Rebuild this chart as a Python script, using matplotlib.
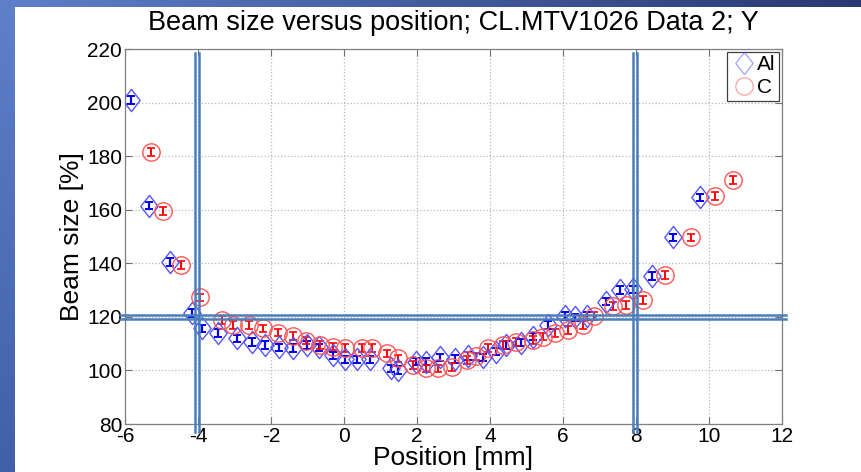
import numpy as np
import matplotlib.pyplot as plt
from matplotlib.path import Path

plt.rcParams["font.family"] = ["Liberation Sans", "DejaVu Sans"]
plt.rcParams["axes.unicode_minus"] = False

# Al data (blue diamonds)
al_pos = [-5.84, -5.34, -4.77, -4.17, -3.90, -3.45, -2.94, -2.53, -2.17, -1.77,
          -1.39, -1.02, -0.68, -0.30, 0.02, 0.35, 0.71, 1.30, 1.48, 1.98,
          2.25, 2.62, 3.03, 3.39, 3.80, 4.17, 4.45, 4.86, 5.18, 5.59,
          6.05, 6.33, 6.66, 7.19, 7.56, 7.92, 8.43, 9.02, 9.75]
al_size = [201.0, 161.5, 140.5, 121.5, 115.7, 113.9, 112.0, 110.7, 109.5, 108.6,
           108.4, 109.5, 108.6, 105.6, 104.1, 104.1, 104.1, 100.8, 100.2, 103.3,
           103.3, 104.9, 104.2, 105.4, 104.9, 107.0, 109.5, 110.4, 112.6, 117.0,
           120.3, 119.8, 120.3, 125.7, 130.0, 130.3, 135.3, 149.7, 164.6]

# C data (red circles)
c_pos = [-5.29, -4.96, -4.47, -3.95, -3.35, -3.05, -2.60, -2.23, -1.82, -1.41,
         -1.04, -0.66, -0.30, 0.04, 0.48, 0.76, 1.17, 1.49, 1.90, 2.26,
         2.58, 2.95, 3.36, 3.63, 3.95, 4.36, 4.70, 5.18, 5.45, 5.78,
         6.14, 6.55, 6.86, 7.36, 7.72, 8.18, 8.79, 9.52, 10.16, 10.66]
c_size = [181.6, 159.5, 139.4, 127.3, 118.8, 117.0, 117.0, 115.7, 114.1, 112.9,
          111.1, 109.5, 108.9, 108.3, 108.3, 108.3, 106.4, 104.5, 102.0, 100.8,
          100.8, 101.2, 103.9, 105.2, 108.3, 109.5, 110.6, 111.4, 112.6, 113.9,
          115.1, 117.0, 120.3, 124.1, 124.5, 126.3, 135.6, 149.7, 165.1, 171.1]

err = 1.4

xticks = [-6, -4, -2, 0, 2, 4, 6, 8, 10, 12]
yticks = [80, 100, 120, 140, 160, 180, 200, 220]

diamond = Path([(0, 1), (0.78, 0), (0, -1), (-0.78, 0), (0, 1)],
               [Path.MOVETO, Path.LINETO, Path.LINETO, Path.LINETO, Path.CLOSEPOLY])

fig = plt.figure(figsize=(8.62, 4.72), dpi=100)
fig.patch.set_facecolor("white")

# slide background strips
left = fig.add_axes([0, 0, 15 / 862, 1])
left.imshow(np.linspace([0.37, 0.50, 0.79], [0.25, 0.38, 0.66], 64)[:, None, :],
            aspect="auto", extent=[0, 1, 0, 1], origin="upper")
left.axis("off")
top = fig.add_axes([0, 1 - 7 / 472, 1, 7 / 472])
top.imshow(np.linspace([0.37, 0.50, 0.79], [0.16, 0.22, 0.45], 256)[None, :, :],
           aspect="auto", extent=[0, 1, 0, 1])
top.axis("off")

ax = fig.add_axes([125 / 862, 48 / 472, 657 / 862, 375 / 472])

ax.errorbar(al_pos, al_size, yerr=err, fmt="none", ecolor="#0000ee",
            elinewidth=1.6, capsize=2.8, capthick=1.4, zorder=3)
ax.errorbar(c_pos, c_size, yerr=err, fmt="none", ecolor="#ff0000",
            elinewidth=1.4, capsize=2.8, capthick=1.2, zorder=3)
h_al, = ax.plot(al_pos, al_size, linestyle="none", marker=diamond, markersize=16,
                markerfacecolor="none", markeredgecolor="#5555ff",
                markeredgewidth=1.0, label="Al", zorder=4)
h_c, = ax.plot(c_pos, c_size, linestyle="none", marker="o", markersize=12.5,
               markerfacecolor="none", markeredgecolor="#ff5555",
               markeredgewidth=1.0, label="C", zorder=4)

ax.set_xlim(-6, 12)
ax.set_ylim(80, 220)
ax.set_xticks(xticks)
ax.set_yticks(yticks)
ax.tick_params(direction="in", length=5, width=0.8, color="#707070",
               labelsize=15, top=True, right=True, pad=2)
for s in ax.spines.values():
    s.set_color("#808080")
    s.set_linewidth(0.9)
ax.grid(True, linestyle=":", color="#b8b8b8", linewidth=0.9)
ax.set_axisbelow(True)

ax.set_title("Beam size versus position; CL.MTV1026 Data 2; Y", fontsize=19.5, pad=14)
ax.set_xlabel("Position [mm]", fontsize=19, labelpad=0.5)
ax.set_ylabel("Beam size [%]", fontsize=19, labelpad=2)

leg = ax.legend(handles=[h_al, h_c], loc="upper right", fontsize=15,
                fancybox=False, framealpha=1, edgecolor="#404040",
                borderpad=0.15, handletextpad=0.0, handlelength=1.3,
                labelspacing=0.2, borderaxespad=0.15)
leg.get_frame().set_linewidth(0.9)
for lh in leg.legend_handles:
    lh.set_alpha(0.5)

# double annotation lines from the slide
line_kw = dict(color="#4a7ebb", linewidth=1.8, clip_on=False, zorder=6)
for x0 in (-4.08, -3.98, 7.92, 8.02):
    ax.plot([x0, x0], [77.0, 218.5], **line_kw)
for y0 in (120.6, 119.1):
    ax.plot([-6.15, 12.1], [y0, y0], **line_kw)

fig.savefig("out.png", dpi=100)
